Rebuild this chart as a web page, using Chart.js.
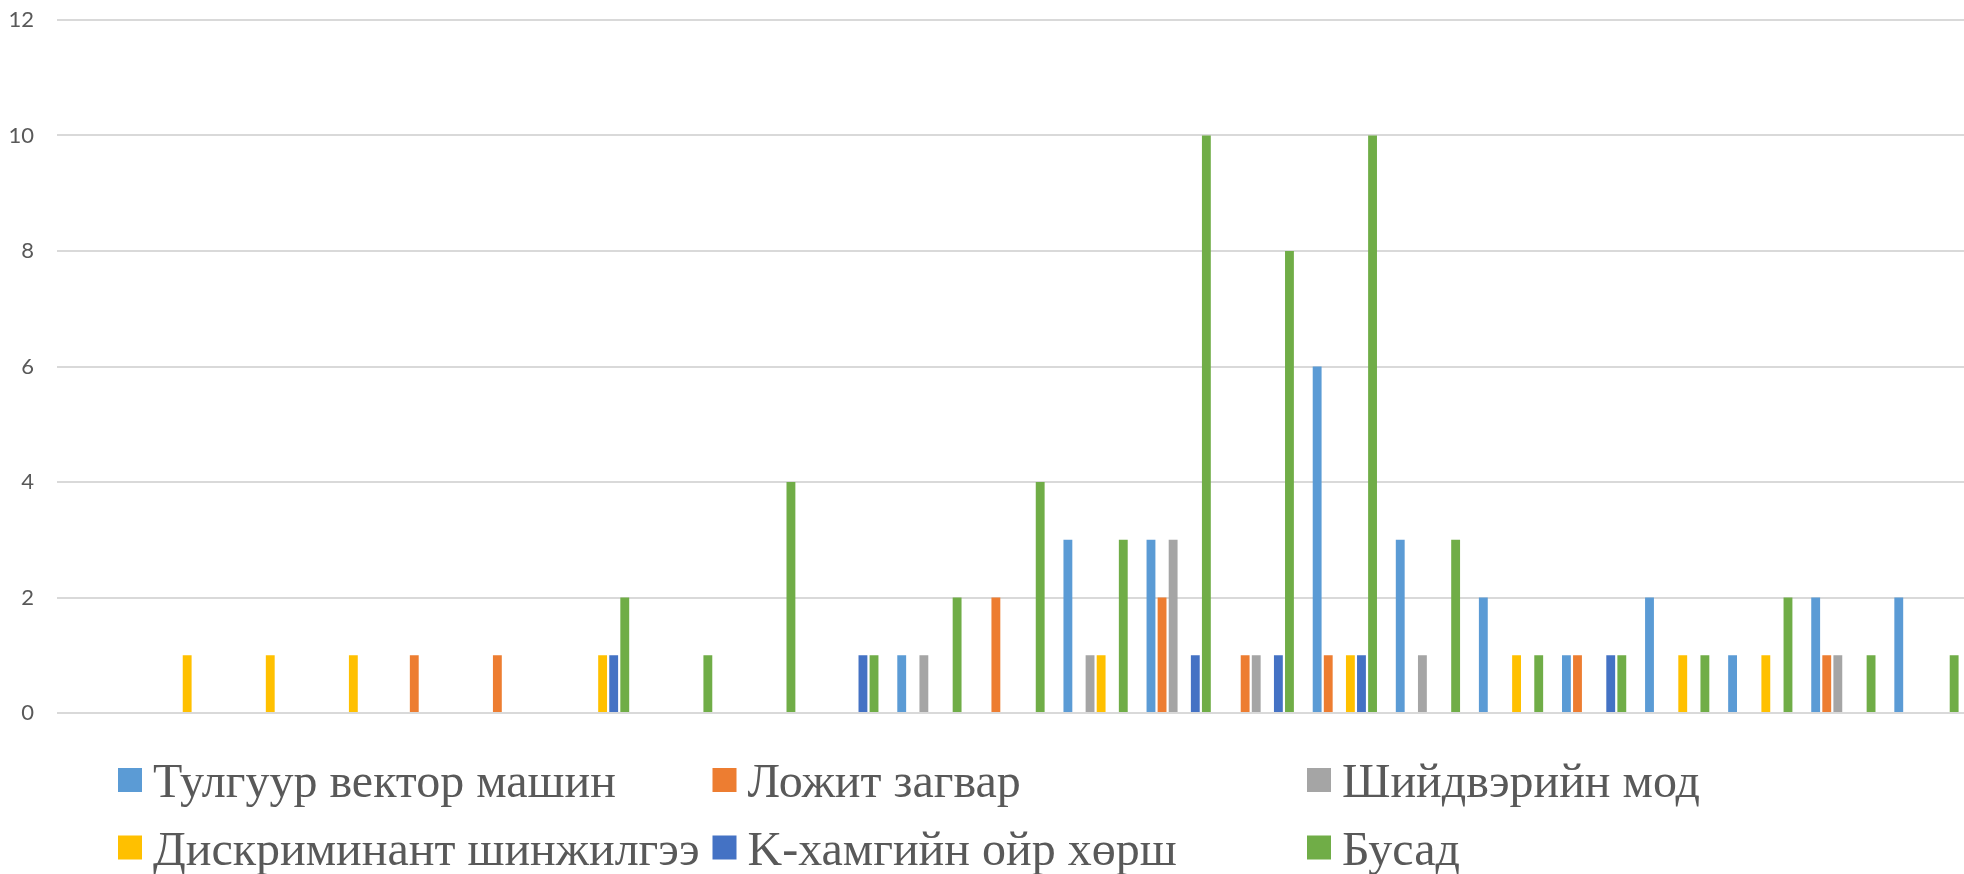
<!DOCTYPE html>
<html>
<head>
<meta charset="utf-8">
<script src="https://cdn.jsdelivr.net/npm/chart.js@4.4.1/dist/chart.umd.min.js"></script>
<style>
  html, body { margin: 0; padding: 0; background: #ffffff; overflow: hidden; }
  #wrap { position: relative; width: 1968px; height: 874px; }
</style>
</head>
<body>
<div id="wrap"><canvas id="chart" width="1968" height="874"></canvas></div>
<script>
// Categories (unlabelled on the axis)
const categories = ['1','2','3','4','5','6','7','8','9','10','11','12','13','14','15','16','17','18','19','20','21','22','23'];

// Series values per category (null = no bar)
const svm      = [null,null,null,null,null,null,null,null,null,null,1,null,3,3,null,6,3,2,1,2,1,2,2];
const logit    = [null,null,null,null,1,1,null,null,null,null,null,2,null,2,1,1,null,null,1,null,null,1,null];
const tree     = [null,null,null,null,null,null,null,null,null,null,1,null,1,3,1,null,1,null,null,null,null,1,null];
const discrim  = [null,1,1,1,null,null,1,null,null,null,null,null,1,null,null,1,null,1,null,1,1,null,null];
const knn      = [null,null,null,null,null,null,1,null,null,1,null,null,null,1,1,1,null,null,1,null,null,null,null];
const other    = [null,null,null,null,null,null,2,1,4,1,2,4,3,10,8,10,3,1,1,1,2,1,1];

const seriesNames = ['Тулгуур вектор машин','Ложит загвар','Шийдвэрийн мод','Дискриминант шинжилгээ','K-хамгийн ойр хөрш','Бусад'];
const seriesColors = ['#5B9BD5','#ED7D31','#A5A5A5','#FFC000','#4472C4','#70AD47'];
const yTicks = [0, 2, 4, 6, 8, 10, 12];

const seriesData = [svm, logit, tree, discrim, knn, other];

// Legend laid out as a 3-column grid below the plot
const gridLegend = {
  id: 'gridLegend',
  afterDraw(chart) {
    const ctx = chart.ctx;
    ctx.save();
    ctx.font = '48px "Liberation Serif", "DejaVu Serif", serif';
    ctx.textBaseline = 'alphabetic';
    chart.data.datasets.forEach((ds, i) => {
      const col = i % 3, row = Math.floor(i / 3);
      const x = 118 + col * 594.5;
      const y = 768 + row * 67.5;
      ctx.fillStyle = ds.backgroundColor;
      ctx.fillRect(x, y, 24, 24);
      ctx.fillStyle = '#595959';
      ctx.fillText(ds.label, x + 35, y + 29);
    });
    ctx.restore();
  }
};

new Chart(document.getElementById('chart'), {
  type: 'bar',
  data: {
    labels: categories,
    datasets: seriesData.map((d, i) => ({
      label: seriesNames[i],
      data: d,
      backgroundColor: seriesColors[i],
      borderWidth: 0,
      categoryPercentage: 0.8,
      barPercentage: 0.8
    }))
  },
  options: {
    responsive: false,
    animation: false,
    events: [],
    layout: { padding: { left: 0, right: 0, top: 20, bottom: 161 } },
    plugins: {
      legend: { display: false },
      tooltip: { enabled: false }
    },
    scales: {
      x: {
        display: false,
        grid: { display: false }
      },
      y: {
        min: 0,
        max: 12,
        afterBuildTicks(scale) { scale.ticks = yTicks.map(v => ({ value: v })); },
        afterFit(scale) {
          scale.width = 57;
          scale.paddingTop = 0;
          scale.paddingBottom = 0;
        },
        border: { display: false },
        grid: { color: '#d9d9d9', lineWidth: 2, drawTicks: false },
        ticks: {
          padding: 23,
          color: '#595959',
          font: { family: 'Lato, "Open Sans", sans-serif', size: 22 }
        }
      }
    }
  },
  plugins: [gridLegend]
});
</script>
</body>
</html>
